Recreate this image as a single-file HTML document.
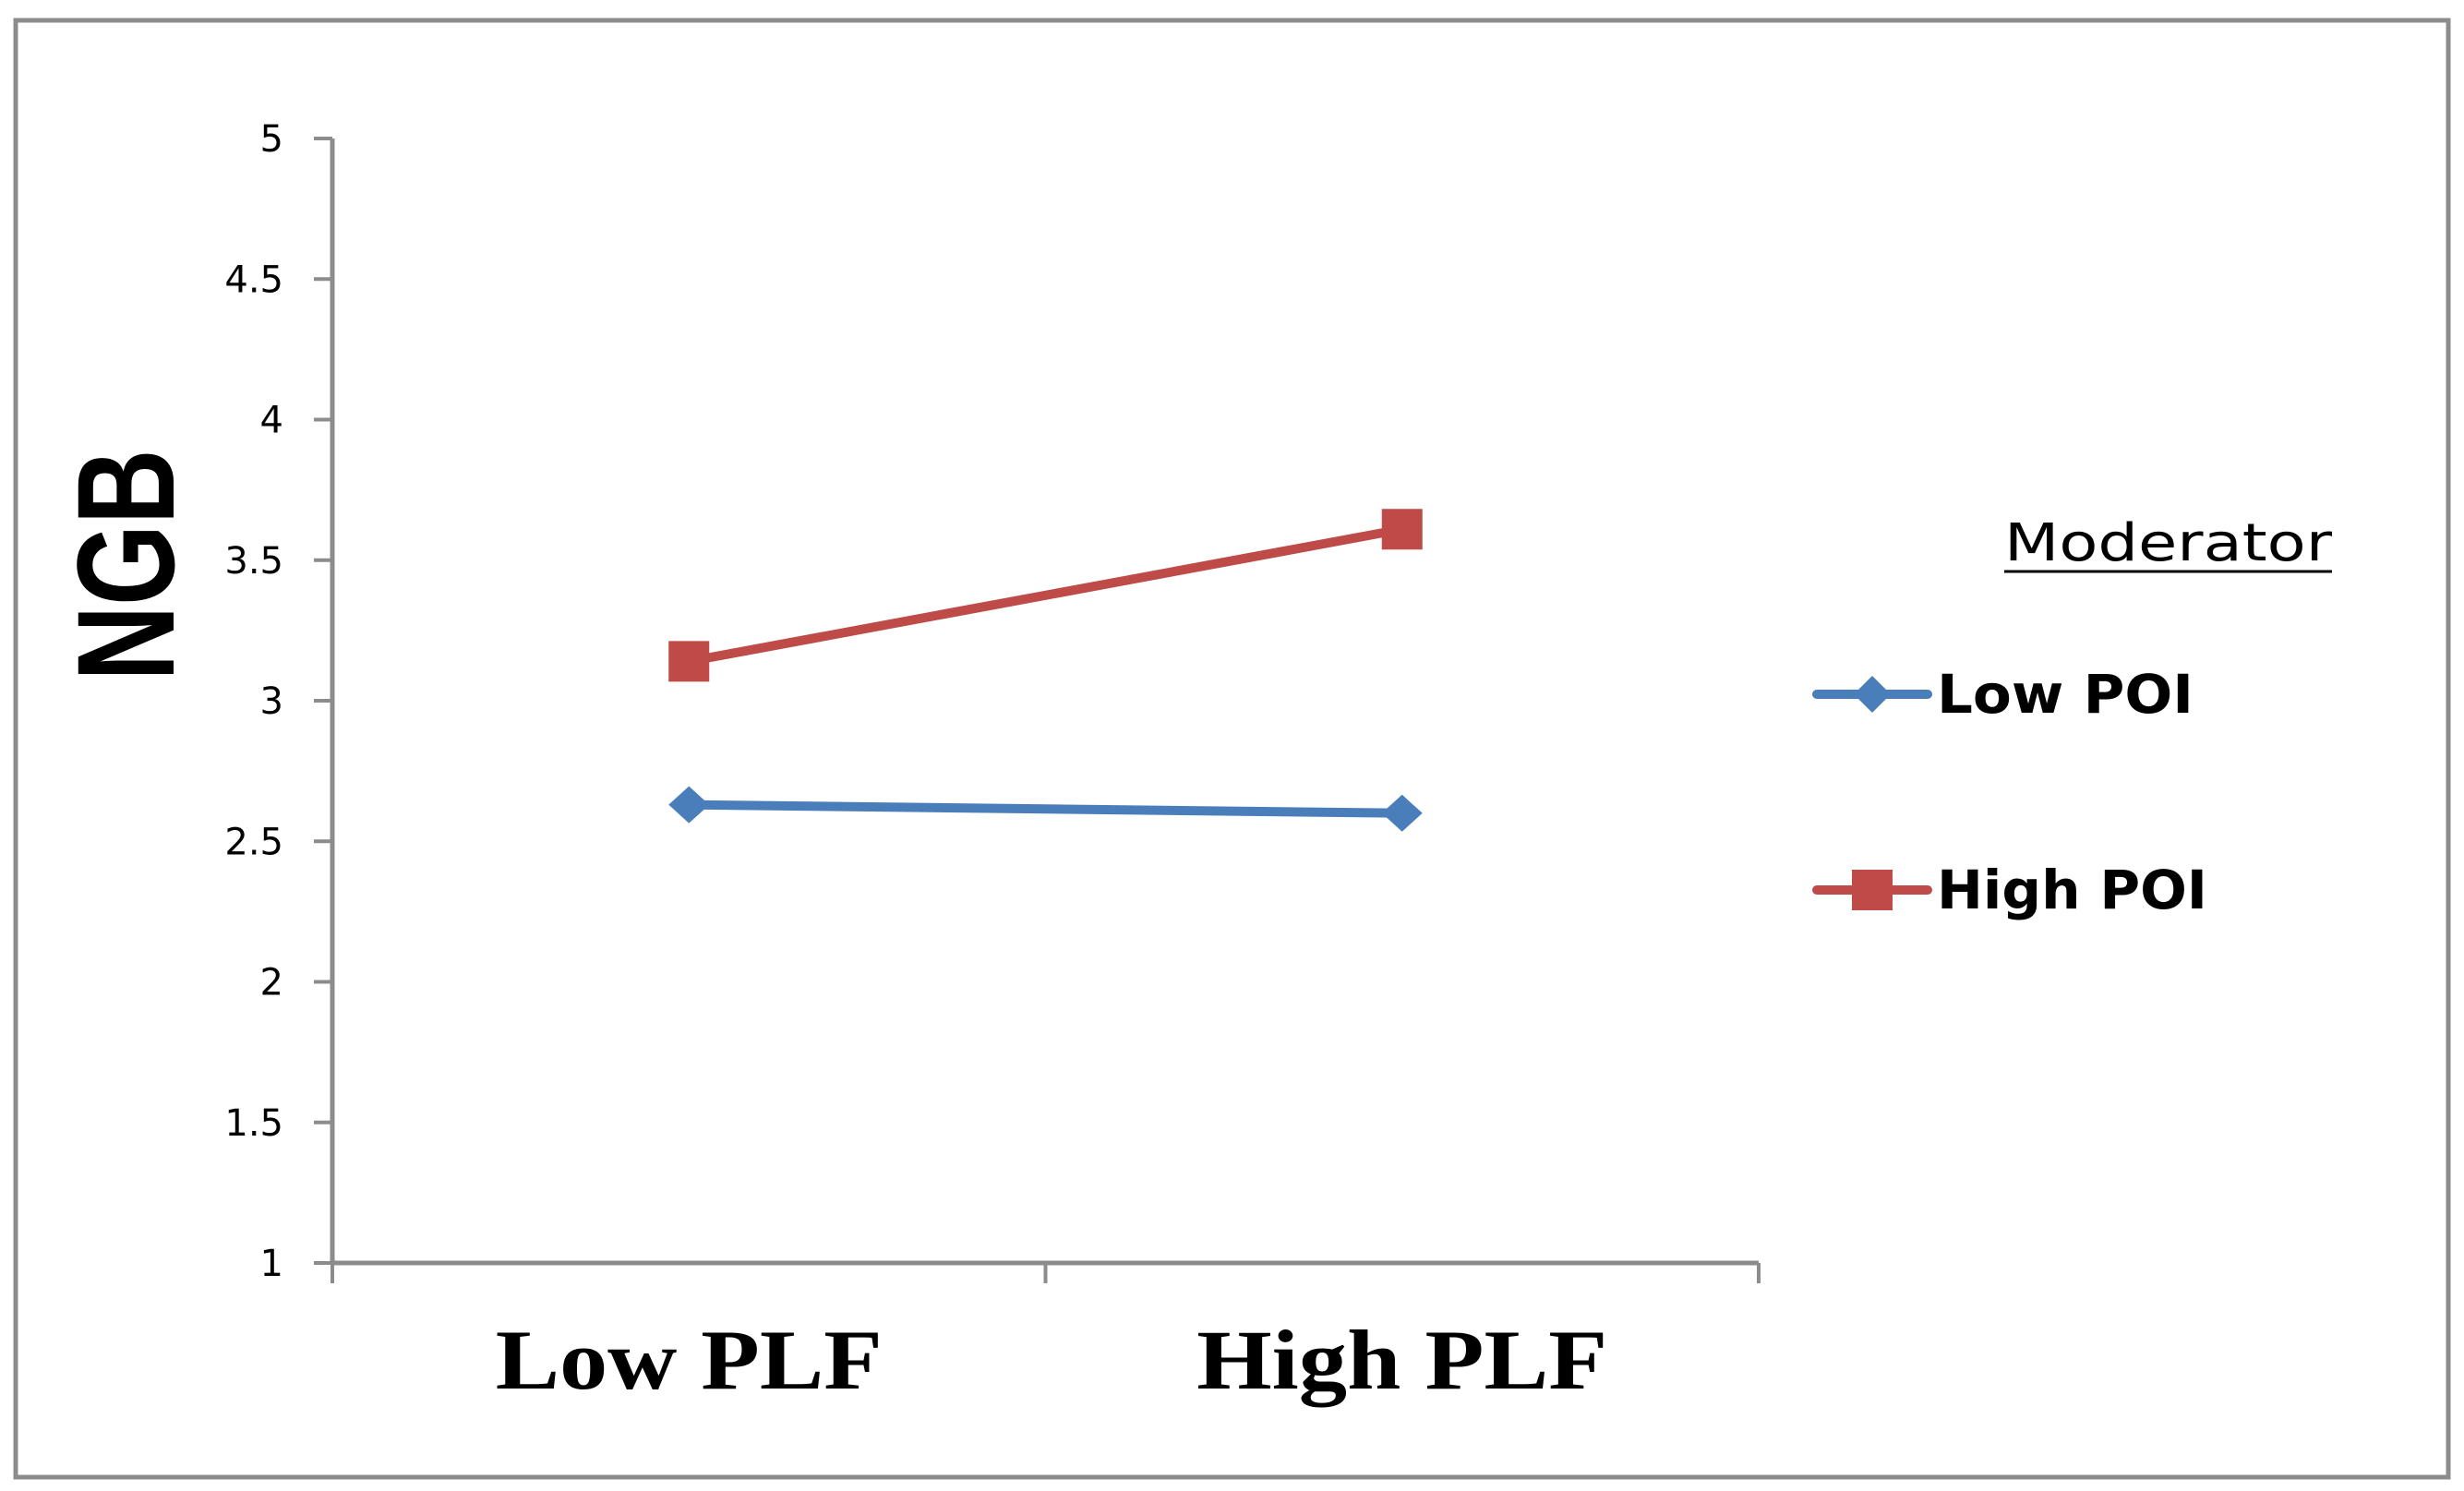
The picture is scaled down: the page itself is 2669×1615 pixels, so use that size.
<!DOCTYPE html>
<html><head><meta charset="utf-8"><style>html,body{margin:0;padding:0;background:#fff}svg{display:block}</style></head>
<body>
<svg id="chart" width="2669" height="1615" xmlns="http://www.w3.org/2000/svg">
<rect x="17" y="22" width="2635" height="1578" fill="#fff" stroke="#8c8c8c" stroke-width="5"/>
<g id="axes"></g>
<g id="series"></g>
<text transform="translate(188,612) rotate(-90)" text-anchor="middle" font-family="Liberation Sans, sans-serif" font-weight="bold" font-size="150" textLength="251" lengthAdjust="spacingAndGlyphs">NGB</text>
<g>
<text x="2171" y="607" font-family="DejaVu Sans, sans-serif" font-size="56" textLength="355" lengthAdjust="spacingAndGlyphs">Moderator</text>
<line x1="2171" y1="619" x2="2526" y2="619" stroke="#000" stroke-width="3"/>
<g>
<line x1="1968" y1="752" x2="2088" y2="752" stroke="#4a7ebb" stroke-width="10" stroke-linecap="round"/>
<path d="M2028 732 L2048 752 L2028 772 L2008 752 Z" fill="#4a7ebb"/>
<text x="2098" y="772" font-family="DejaVu Sans, sans-serif" font-weight="bold" font-size="58" textLength="278" lengthAdjust="spacingAndGlyphs">Low POI</text>
</g>
<g>
<line x1="1968" y1="964" x2="2088" y2="964" stroke="#be4b48" stroke-width="10" stroke-linecap="round"/>
<rect x="2006" y="942" width="44" height="44" fill="#be4b48"/>
<text x="2098" y="984" font-family="DejaVu Sans, sans-serif" font-weight="bold" font-size="58" textLength="293" lengthAdjust="spacingAndGlyphs">High POI</text>
</g>
</g>
</svg>
<script>
const categories = ["Low PLF", "High PLF"];
const lowPOI = [2.63, 2.60];
const highPOI = [3.14, 3.61];
const yTicks = [1, 1.5, 2, 2.5, 3, 3.5, 4, 4.5, 5];
const NS = "http://www.w3.org/2000/svg";
const x0 = 360, x1 = 1905, yTop = 150, yBot = 1368, yMin = 1, yMax = 5;
function xScale(i) { const w = (x1 - x0) / categories.length; return x0 + w * (i + 0.5); }
function yScale(v) { return yBot - (v - yMin) / (yMax - yMin) * (yBot - yTop); }
function mk(tag, attrs, parent) { const e = document.createElementNS(NS, tag); for (const k in attrs) e.setAttribute(k, attrs[k]); parent.appendChild(e); return e; }
const axes = document.getElementById("axes");
const ya = mk("line", {x1: x0, y1: yTop, x2: x0, y2: yBot, stroke: "#8c8c8c", "stroke-width": 5}, axes);


const xa = mk("line", {x1: x0, y1: yBot, x2: x1, y2: yBot, stroke: "#8c8c8c", "stroke-width": 5}, axes);


yTicks.forEach(v => {
  const y = yScale(v);
  const t = mk("line", {x1: x0 - 20, y1: y, x2: x0, y2: y, stroke: "#8c8c8c", "stroke-width": 4}, axes);
  
  
  const l = mk("text", {x: 307, y: y + 14, "text-anchor": "end", "font-family": "DejaVu Sans, sans-serif", "font-size": 40}, axes);
  l.textContent = String(v);
  
  
});
for (let i = 0; i <= categories.length; i++) {
  const x = x0 + (x1 - x0) / categories.length * i;
  const t = mk("line", {x1: x, y1: yBot, x2: x, y2: yBot + 22, stroke: "#8c8c8c", "stroke-width": 4}, axes);
  
  
}
categories.forEach((c, i) => {
  const l = mk("text", {x: xScale(i), y: 1504, "text-anchor": "middle", "font-family": "Liberation Serif, serif", "font-weight": "bold", "font-size": 92, textLength: i === 0 ? 419 : 445, lengthAdjust: "spacingAndGlyphs"}, axes);
  l.textContent = c;
  
  
});
const sg = document.getElementById("series");
function drawSeries(vals, color, marker, name) {
  const g = mk("g", {}, sg);
  
  
  const pts = vals.map((v, i) => xScale(i) + "," + yScale(v)).join(" ");
  mk("polyline", {points: pts, fill: "none", stroke: color, "stroke-width": 10, "stroke-linecap": "round"}, g);
  vals.forEach((v, i) => {
    const cx = xScale(i), cy = yScale(v);
    let m;
    if (marker === "square") m = mk("rect", {x: cx - 22, y: cy - 22, width: 44, height: 44, fill: color}, g);
    else m = mk("path", {d: `M${cx} ${cy - 20} L${cx + 22} ${cy} L${cx} ${cy + 20} L${cx - 22} ${cy} Z`, fill: color}, g);
    
    
  });
}
drawSeries(lowPOI, "#4a7ebb", "diamond", "series-low-poi");
drawSeries(highPOI, "#be4b48", "square", "series-high-poi");
</script>
</body></html>
